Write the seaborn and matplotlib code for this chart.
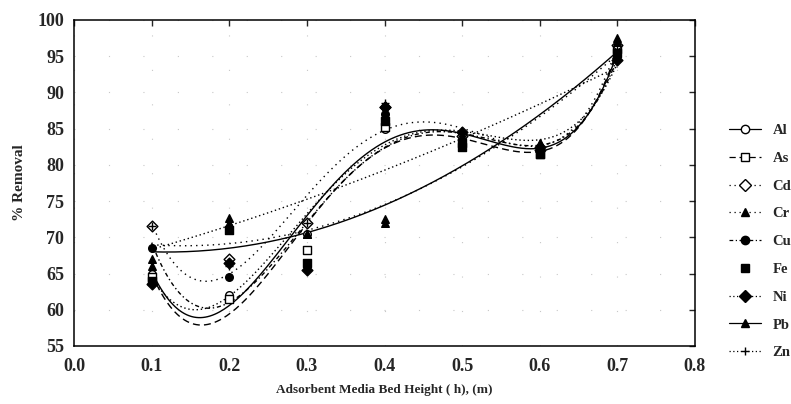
import numpy as np
import pandas as pd
import matplotlib
matplotlib.use("Agg")
import matplotlib.pyplot as plt
import seaborn as sns
from matplotlib.lines import Line2D

# bed height (m)
heights = [0.1, 0.2, 0.3, 0.4, 0.5, 0.6, 0.7]
# % removal
al = [65.0, 62.0, 70.5, 85.0, 84.0, 82.0, 95.5]
as_ = [64.5, 61.5, 68.2, 85.2, 83.0, 81.5, 96.0]
cd = [71.5, 67.0, 72.0, 88.0, 84.0, 82.5, 96.5]
cr = [67.0, 72.7, 70.5, 72.5, 82.5, 83.0, 97.0]
cu = [68.5, 64.5, 66.0, 87.0, 83.5, 82.0, 95.0]
fe = [64.0, 71.0, 66.5, 86.0, 82.5, 81.5, 95.5]
ni = [63.5, 66.5, 65.5, 88.0, 84.5, 82.0, 94.5]
pb = [66.0, 72.0, 70.5, 72.0, 83.0, 83.0, 97.5]
zn = [71.5, 66.0, 72.0, 88.5, 84.0, 82.0, 96.0]

metals = ["Al", "As", "Cd", "Cr", "Cu", "Fe", "Ni", "Pb", "Zn"]
values = [al, as_, cd, cr, cu, fe, ni, pb, zn]

df = pd.DataFrame({
    "h": heights * len(metals),
    "removal": sum(values, []),
    "metal": np.repeat(metals, len(heights)),
})

# style per metal: (marker, facecolor, linestyle, fit degree)
styles = {
    "Al": ("o", "white", "-", 4),
    "As": ("s", "white", (0, (5, 3)), 4),
    "Cd": ("D", "white", (0, (1, 3)), 4),
    "Cr": ("^", "black", (0, (1, 3)), 2),
    "Cu": ("o", "black", (0, (3, 2, 1, 2)), 4),
    "Fe": ("s", "black", None, None),
    "Ni": ("D", "black", (0, (1, 2)), 4),
    "Pb": ("^", "black", "-", 2),
    "Zn": ("+", "black", (0, (1, 2)), 2),
}

sns.set_style("white")
plt.rcParams["font.family"] = ["Liberation Serif", "DejaVu Serif"]
plt.rcParams["font.weight"] = "bold"

fig = plt.figure(figsize=(7.91, 4.04), dpi=100)
ax = fig.add_axes([0.0936, 0.1436, 0.785, 0.807])

xx = np.linspace(0.1, 0.7, 200)
for m in metals:
    sub = df[df.metal == m]
    mk, fc, ls, deg = styles[m]
    if deg is not None:
        coef = np.polyfit(sub.h, sub.removal, deg)
        fit = pd.DataFrame({"h": xx, "removal": np.polyval(coef, xx)})
        sns.lineplot(data=fit, x="h", y="removal", ax=ax, color="black",
                     linestyle=ls, linewidth=1.0, legend=False)
    sns.scatterplot(data=sub, x="h", y="removal", ax=ax, marker=mk, s=30,
                    facecolor=fc if mk != "+" else "black", edgecolor="black",
                    linewidth=1.0, legend=False, zorder=3)

ax.set_xlim(0.0, 0.8)
ax.set_ylim(55, 100)
ax.set_xticks(np.arange(0, 0.81, 0.1))
ax.set_xticklabels([f"{t:.1f}" for t in np.arange(0, 0.81, 0.1)])
ax.set_yticks(range(55, 101, 5))
ax.tick_params(direction="in", length=4, width=1, labelsize=13, top=True, right=True,
               labeltop=False, labelright=False)
ax.tick_params(axis="x", pad=9)
ax.tick_params(axis="y", pad=7)
for lab in ax.get_xticklabels() + ax.get_yticklabels():
    lab.set_fontweight("bold")
ax.grid(True, color="#c8c8c8", linestyle=(0, (1, 30)), linewidth=0.8)
for sp in ax.spines.values():
    sp.set_color("black")
    sp.set_linewidth(1.1)

ax.set_xlabel("Adsorbent Media Bed Height ( h), (m)", fontsize=9.5, fontweight="bold", labelpad=6)
ax.set_ylabel("% Removal", fontsize=11, fontweight="bold", labelpad=8)

handles = []
for m in metals:
    mk, fc, ls, deg = styles[m]
    handles.append(Line2D([0], [0], color="black", linestyle=ls if ls else "none",
                          linewidth=0.9, marker=mk, markersize=6,
                          markerfacecolor=fc, markeredgecolor="black"))
fig.legend(handles, metals, loc="center left", bbox_to_anchor=(0.905, 0.402),
           frameon=False, handlelength=2.2, labelspacing=1.0, handletextpad=0.8,
           prop={"family": "Liberation Serif", "weight": "bold", "size": 10.5})

fig.savefig("out.png", dpi=100)
